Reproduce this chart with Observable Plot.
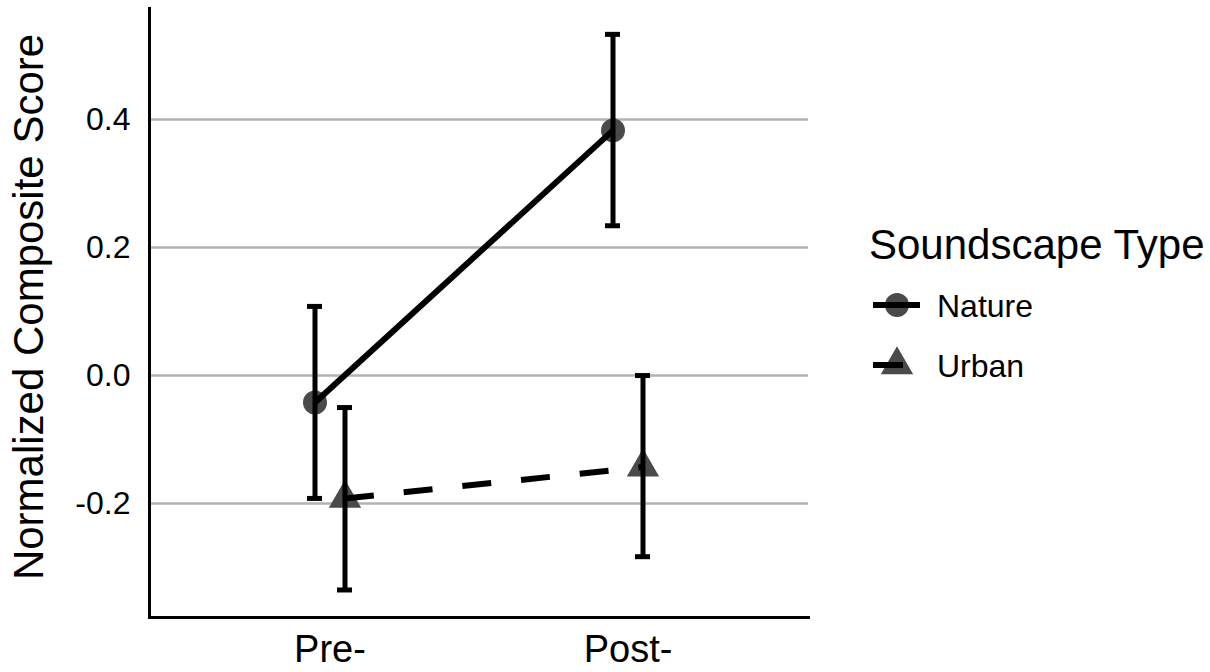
<!DOCTYPE html>
<html>
<head>
<meta charset="utf-8">
<script src="https://cdn.jsdelivr.net/npm/d3@7"></script>
<script src="https://cdn.jsdelivr.net/npm/@observablehq/plot@0.6"></script>
<style>
  html, body { margin: 0; padding: 0; background: white; }
  #wrap { position: relative; width: 1210px; height: 672px; font-family: "Liberation Sans", Arial, Helvetica, sans-serif; }
  #wrap > svg { position: absolute; left: 0; top: 0; }
  #overlay { pointer-events: none; }
</style>
</head>
<body>
<div id="wrap"></div>
<script>
// ---- data ----
const times = ["Pre-", "Post-"];
const seriesNames = ["Nature", "Urban"];
const natureMean = [-0.042, 0.383];
const natureLow = [-0.192, 0.234];
const natureHigh = [0.108, 0.533];
const urbanMean = [-0.192, -0.143];
const urbanLow = [-0.335, -0.283];
const urbanHigh = [-0.05, 0.0];
const yTicks = [-0.2, 0, 0.2, 0.4];
const yLabel = "Normalized Composite Score";
const legendTitle = "Soundscape Type";

const nature = times.map((t, i) => ({time: t, series: "Nature", mean: natureMean[i], lo: natureLow[i], hi: natureHigh[i]}));
const urban = times.map((t, i) => ({time: t, series: "Urban", mean: urbanMean[i], lo: urbanLow[i], hi: urbanHigh[i]}));

const pointFill = "#4a4a4a";
const R = 12;

function seriesMarks(data, dx, dash) {
  return [
    Plot.dot(data, {x: "time", y: "mean", dx, symbol: "series", r: R, fill: pointFill, stroke: "none"}),
    Plot.line(data, {x: "time", y: "mean", dx, stroke: "black", strokeWidth: 6, strokeDasharray: dash, strokeLinecap: "butt"}),
    Plot.ruleX(data, {x: "time", y1: "lo", y2: "hi", dx, stroke: "black", strokeWidth: 5}),
    Plot.tickY(data, {x: "time", y: "hi", dx, stroke: "black", strokeWidth: 5}),
    Plot.tickY(data, {x: "time", y: "lo", dx, stroke: "black", strokeWidth: 5})
  ];
}

const chart = Plot.plot({
  width: 1210,
  height: 672,
  marginLeft: 149,
  marginRight: 402,
  marginTop: 8,
  marginBottom: 55,
  style: {fontFamily: "'Liberation Sans', Arial, Helvetica, sans-serif", background: "white", color: "black"},
  x: {type: "band", domain: times, paddingInner: 0.95, paddingOuter: 0.578, label: null},
  y: {domain: [-0.378, 0.5734], label: null},
  symbol: {domain: seriesNames, range: ["circle", "triangle"]},
  marks: [
    Plot.gridY(yTicks, {stroke: "#b3b3b3", strokeOpacity: 1, strokeWidth: 2.5}),
    Plot.axisY(yTicks, {tickSize: 0, tickPadding: 19, fontSize: 32, tickFormat: d => d.toFixed(1), label: null, fill: "black"}),
    Plot.axisX({tickSize: 0, tickPadding: 18, fontSize: 38, label: null, fill: "black"}),
    Plot.frame({anchor: "left", stroke: "black", strokeWidth: 3}),
    Plot.frame({anchor: "bottom", stroke: "black", strokeWidth: 3}),
    ...seriesMarks(nature, -15, null),
    ...seriesMarks(urban, 15, "29,30")
  ]
});
document.getElementById("wrap").appendChild(chart);

// ---- overlay: y label and legend ----
const ov = d3.select("#wrap").append("svg")
  .attr("id", "overlay")
  .attr("width", 1210).attr("height", 672)
  .style("font-family", "'Liberation Sans', Arial, Helvetica, sans-serif");

ov.append("text")
  .attr("transform", "translate(43,307) rotate(-90)")
  .attr("text-anchor", "middle")
  .attr("font-size", 42)
  .attr("fill", "black")
  .text(yLabel);

ov.append("text")
  .attr("x", 869).attr("y", 259)
  .attr("font-size", 42)
  .attr("fill", "black")
  .text(legendTitle);

const sym = d3.symbol().size(Math.PI * R * R);
const items = [
  {name: seriesNames[0], shape: d3.symbolCircle, lineEnd: 920, cy: 305, ty: 317},
  {name: seriesNames[1], shape: d3.symbolTriangle, lineEnd: 903, cy: 365, ty: 377}
];
items.forEach(it => {
  ov.append("path")
    .attr("transform", `translate(897,${it.cy})`)
    .attr("d", sym.type(it.shape)())
    .attr("fill", pointFill);
  ov.append("line")
    .attr("x1", 873).attr("x2", it.lineEnd)
    .attr("y1", it.cy).attr("y2", it.cy)
    .attr("stroke", "black").attr("stroke-width", 6);
  ov.append("text")
    .attr("x", 937).attr("y", it.ty)
    .attr("font-size", 32)
    .attr("fill", "black")
    .text(it.name);
});
</script>
</body>
</html>
